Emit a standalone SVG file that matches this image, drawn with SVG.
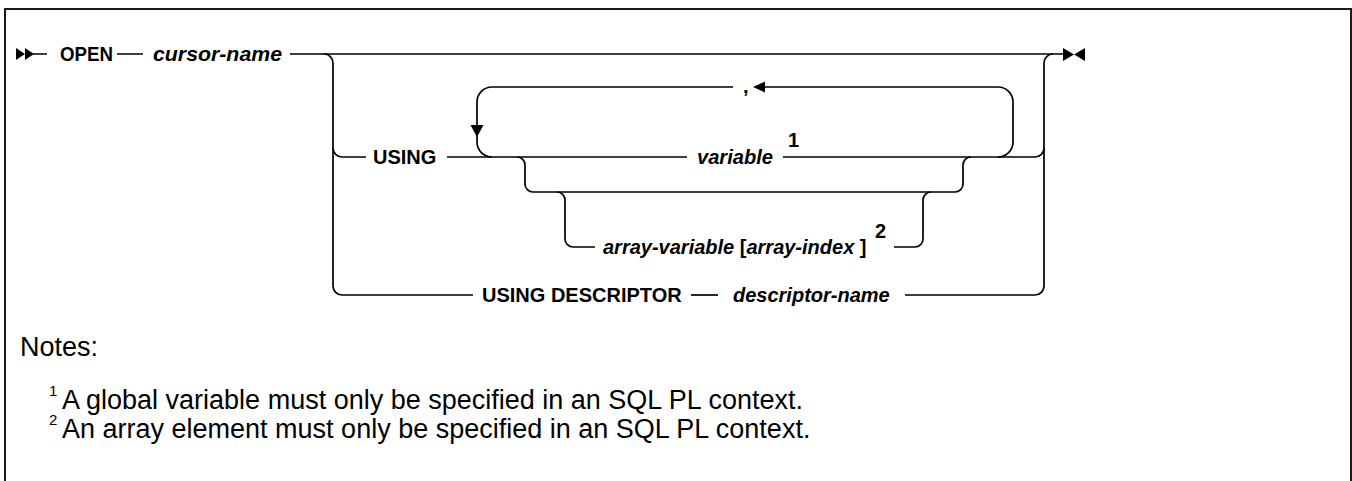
<svg xmlns="http://www.w3.org/2000/svg" width="1352" height="481" viewBox="0 0 1352 481">
<style>
.ln{fill:none;stroke:#000;stroke-width:1.7}
.ah{fill:#000;stroke:none}
.kw{font-family:"Liberation Sans",Arial,sans-serif;font-size:20px;font-weight:bold;fill:#000}
.var{font-family:"Liberation Sans",Arial,sans-serif;font-size:20px;font-weight:bold;font-style:italic;fill:#000}
.sup{font-family:"Liberation Sans",Arial,sans-serif;font-size:20px;font-weight:bold;fill:#000}
.note{font-family:"Liberation Sans",Arial,sans-serif;font-size:27px;fill:#000}
.nsup{font-family:"Liberation Sans",Arial,sans-serif;font-size:15px;fill:#000}
</style>
<rect x="0" y="0" width="1352" height="481" fill="#fff"/>
<rect x="5" y="9" width="1346" height="520" fill="none" stroke="#1a1a1a" stroke-width="2"/>
<g id="connectors">
<polygon class="ah" points="16,48 25,54 16,60"/>
<polygon class="ah" points="25,48 34,54 25,60"/>
<path class="ln" d="M33,54 H47 M117,54 H143 M290,54 H1063"/>
<path class="ln" d="M324,54 A9,9 0 0 1 333,63 V286 A9,9 0 0 0 342,295 H473"/>
<path class="ln" d="M333,148 A9,9 0 0 0 342,157 H366"/>
<path class="ln" d="M447,157 H687"/>
<path class="ln" d="M492,157 A15,15 0 0 1 477,142 V102 A15,15 0 0 1 492,87 H733"/>
<path class="ln" d="M765,87 H998 A15,15 0 0 1 1013,102 V142 A15,15 0 0 1 998,157"/>
<polygon class="ah" points="470.5,125 483.5,125 477,137"/>
<polygon class="ah" points="753,87 765,81.5 765,92.5"/>
<path class="ln" d="M783,157 H1035 A9,9 0 0 0 1044,148"/>
<path class="ln" d="M1044,148 V63 A9,9 0 0 1 1053,54"/>
<path class="ln" d="M1044,148 V286 A9,9 0 0 1 1035,295 H905"/>
<path class="ln" d="M691,295 H718"/>
<path class="ln" d="M517,157 A8,8 0 0 1 525,165 V184 A8,8 0 0 0 533,192 H955 A8,8 0 0 0 963,184 V165 A8,8 0 0 1 971,157"/>
<path class="ln" d="M557,192 A8,8 0 0 1 565,200 V239 A8,8 0 0 0 573,247 H595"/>
<path class="ln" d="M894,247 H915 A8,8 0 0 0 923,239 V200 A8,8 0 0 1 931,192"/>
<polygon class="ah" points="1063,48 1074,54.5 1063,61"/>
<polygon class="ah" points="1085,48 1074,54.5 1085,61"/>
</g>
<g id="open"><text class="kw" x="60" y="61" textLength="53" lengthAdjust="spacingAndGlyphs">OPEN</text></g>
<g id="cursor-name"><text class="var" x="153" y="61" textLength="129" lengthAdjust="spacingAndGlyphs">cursor-name</text></g>
<g id="using"><text class="kw" x="373" y="164">USING</text></g>
<g id="comma"><text class="kw" x="743" y="93">,</text></g>
<g id="variable"><text class="var" x="697" y="164" textLength="76" lengthAdjust="spacingAndGlyphs">variable</text><text class="sup" x="788" y="147">1</text></g>
<g id="array-variable"><text class="var" x="603" y="254">array-variable <tspan font-style="normal">[</tspan>array-index <tspan font-style="normal">]</tspan></text><text class="sup" x="875" y="238">2</text></g>
<g id="using-descriptor"><text class="kw" x="482" y="302">USING DESCRIPTOR</text></g>
<g id="descriptor-name"><text class="var" x="733" y="302">descriptor-name</text></g>
<g id="notes">
<text class="note" x="20" y="356">Notes:</text>
<text class="nsup" x="49" y="396">1</text>
<text class="note" x="62" y="409">A global variable must only be specified in an SQL PL context.</text>
<text class="nsup" x="49" y="425">2</text>
<text class="note" x="62" y="438">An array element must only be specified in an SQL PL context.</text>
</g>
</svg>
